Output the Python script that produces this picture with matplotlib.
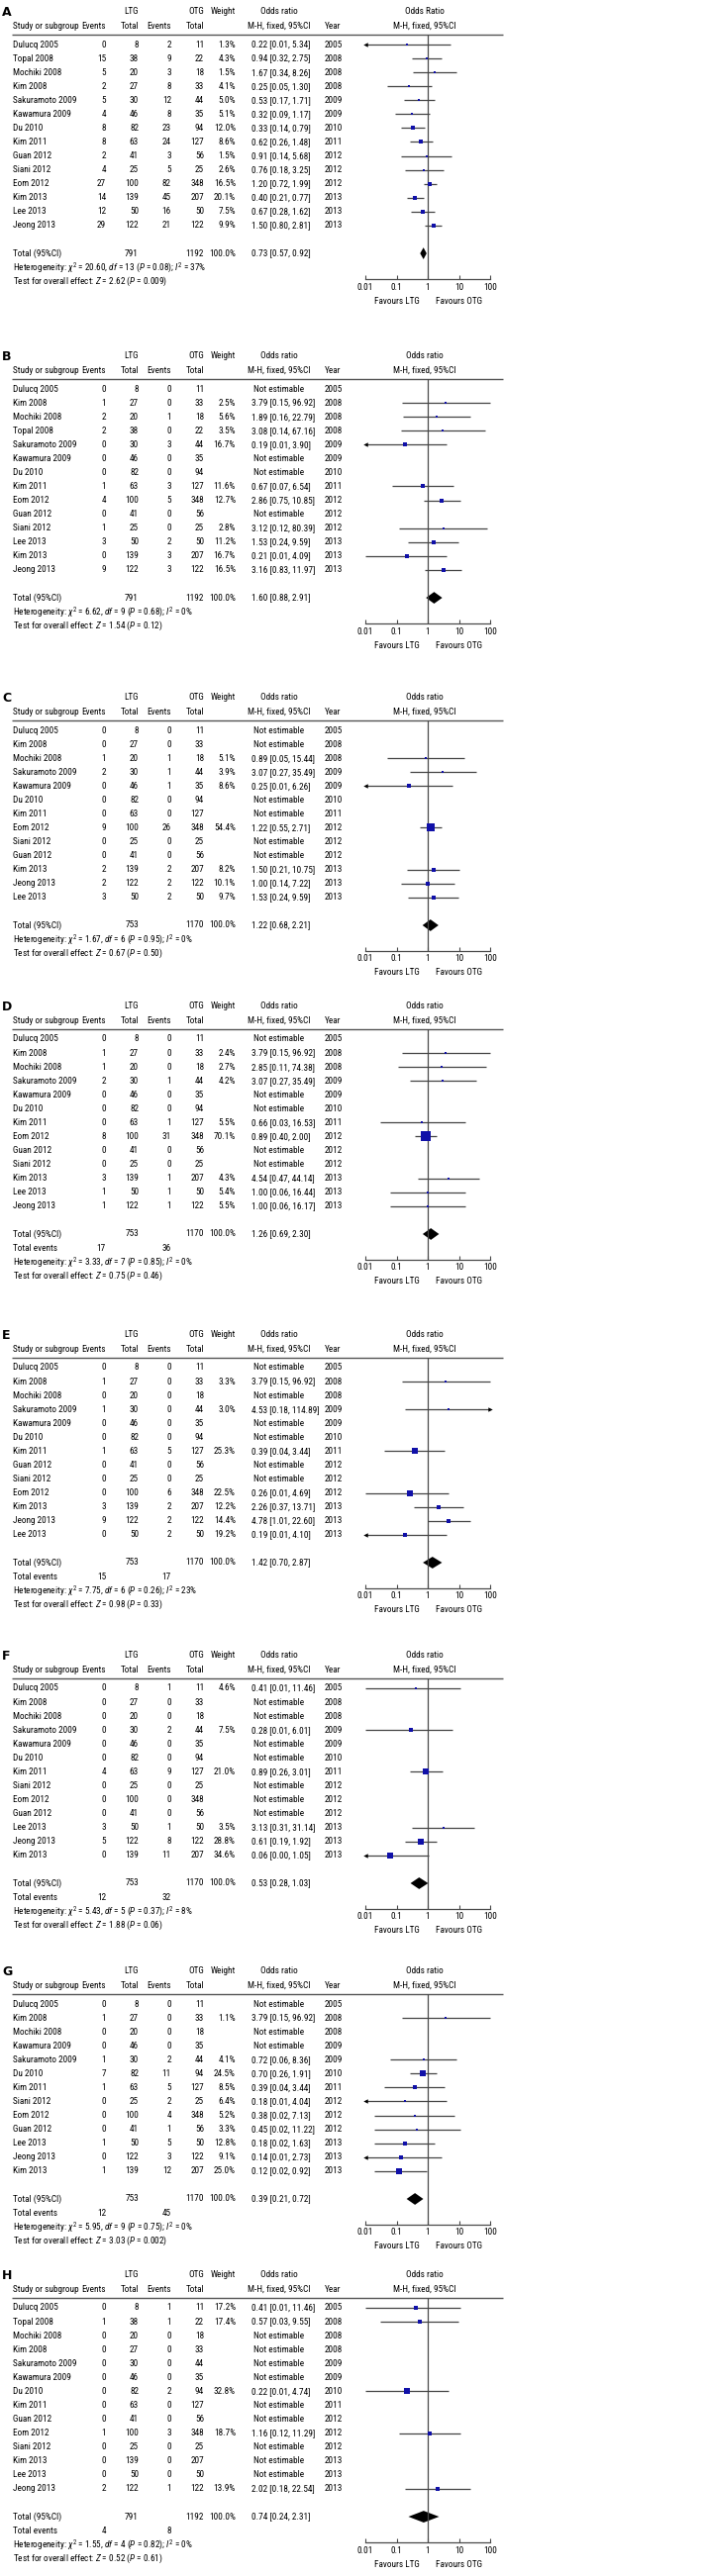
import numpy as np
import matplotlib
matplotlib.use("Agg")
import matplotlib.pyplot as plt
from matplotlib import font_manager as fm

# ---------------------------------------------------------------- data
A_STUDY = ["Dulucq 2005", "Topal 2008", "Mochiki 2008", "Kim 2008", "Sakuramoto 2009", "Kawamura 2009", "Du 2010",
           "Kim 2011", "Guan 2012", "Siani 2012", "Eom 2012", "Kim 2013", "Lee 2013", "Jeong 2013"]
A_LTG_EV = [0, 15, 5, 2, 5, 4, 8, 8, 2, 4, 27, 14, 12, 29]
A_LTG_N = [8, 38, 20, 27, 30, 46, 82, 63, 41, 25, 100, 139, 50, 122]
A_OTG_EV = [2, 9, 3, 8, 12, 8, 23, 24, 3, 5, 82, 45, 16, 21]
A_OTG_N = [11, 22, 18, 33, 44, 35, 94, 127, 56, 25, 348, 207, 50, 122]
A_WEIGHT = [1.3, 4.3, 1.5, 4.1, 5.0, 5.1, 12.0, 8.6, 1.5, 2.6, 16.5, 20.1, 7.5, 9.9]
A_OR = [0.22, 0.94, 1.67, 0.25, 0.53, 0.32, 0.33, 0.62, 0.91, 0.76, 1.20, 0.40, 0.67, 1.50]
A_LO = [0.0095, 0.32, 0.34, 0.05, 0.17, 0.09, 0.14, 0.26, 0.14, 0.18, 0.72, 0.21, 0.28, 0.80]
A_HI = [5.34, 2.75, 8.26, 1.30, 1.71, 1.17, 0.79, 1.48, 5.68, 3.25, 1.99, 0.77, 1.62, 2.81]
A_TOTAL = [791, 1192, 0.73, 0.57, 0.92]
A_EVENTS = None
A_HET = [20.60, 13, "0.08", 37]
A_TEST = [2.62, "0.009"]

B_STUDY = ["Dulucq 2005", "Kim 2008", "Mochiki 2008", "Topal 2008", "Sakuramoto 2009", "Kawamura 2009", "Du 2010",
           "Kim 2011", "Eom 2012", "Guan 2012", "Siani 2012", "Lee 2013", "Kim 2013", "Jeong 2013"]
B_LTG_EV = [0, 1, 2, 2, 0, 0, 0, 1, 4, 0, 1, 3, 0, 9]
B_LTG_N = [8, 27, 20, 38, 30, 46, 82, 63, 100, 41, 25, 50, 139, 122]
B_OTG_EV = [0, 0, 1, 0, 3, 0, 0, 3, 5, 0, 0, 2, 3, 3]
B_OTG_N = [11, 33, 18, 22, 44, 35, 94, 127, 348, 56, 25, 50, 207, 122]
B_WEIGHT = [None, 2.5, 5.6, 3.5, 16.7, None, None, 11.6, 12.7, None, 2.8, 11.2, 16.7, 16.5]
B_OR = [None, 3.79, 1.89, 3.08, 0.19, None, None, 0.67, 2.86, None, 3.12, 1.53, 0.21, 3.16]
B_LO = [None, 0.15, 0.16, 0.14, 0.0095, None, None, 0.07, 0.75, None, 0.12, 0.24, 0.01, 0.83]
B_HI = [None, 96.92, 22.79, 67.16, 3.90, None, None, 6.54, 10.85, None, 80.39, 9.59, 4.09, 11.97]
B_TOTAL = [791, 1192, 1.60, 0.88, 2.91]
B_EVENTS = None
B_HET = [6.62, 9, "0.68", 0]
B_TEST = [1.54, "0.12"]

C_STUDY = ["Dulucq 2005", "Kim 2008", "Mochiki 2008", "Sakuramoto 2009", "Kawamura 2009", "Du 2010", "Kim 2011",
           "Eom 2012", "Siani 2012", "Guan 2012", "Kim 2013", "Jeong 2013", "Lee 2013"]
C_LTG_EV = [0, 0, 1, 2, 0, 0, 0, 9, 0, 0, 2, 2, 3]
C_LTG_N = [8, 27, 20, 30, 46, 82, 63, 100, 25, 41, 139, 122, 50]
C_OTG_EV = [0, 0, 1, 1, 1, 0, 0, 26, 0, 0, 2, 2, 2]
C_OTG_N = [11, 33, 18, 44, 35, 94, 127, 348, 25, 56, 207, 122, 50]
C_WEIGHT = [None, None, 5.1, 3.9, 8.6, None, None, 54.4, None, None, 8.2, 10.1, 9.7]
C_OR = [None, None, 0.89, 3.07, 0.25, None, None, 1.22, None, None, 1.50, 1.00, 1.53]
C_LO = [None, None, 0.05, 0.27, 0.0095, None, None, 0.55, None, None, 0.21, 0.14, 0.24]
C_HI = [None, None, 15.44, 35.49, 6.26, None, None, 2.71, None, None, 10.75, 7.22, 9.59]
C_TOTAL = [753, 1170, 1.22, 0.68, 2.21]
C_EVENTS = None
C_HET = [1.67, 6, "0.95", 0]
C_TEST = [0.67, "0.50"]

D_STUDY = ["Dulucq 2005", "Kim 2008", "Mochiki 2008", "Sakuramoto 2009", "Kawamura 2009", "Du 2010", "Kim 2011",
           "Eom 2012", "Guan 2012", "Siani 2012", "Kim 2013", "Lee 2013", "Jeong 2013"]
D_LTG_EV = [0, 1, 1, 2, 0, 0, 0, 8, 0, 0, 3, 1, 1]
D_LTG_N = [8, 27, 20, 30, 46, 82, 63, 100, 41, 25, 139, 50, 122]
D_OTG_EV = [0, 0, 0, 1, 0, 0, 1, 31, 0, 0, 1, 1, 1]
D_OTG_N = [11, 33, 18, 44, 35, 94, 127, 348, 56, 25, 207, 50, 122]
D_WEIGHT = [None, 2.4, 2.7, 4.2, None, None, 5.5, 70.1, None, None, 4.3, 5.4, 5.5]
D_OR = [None, 3.79, 2.85, 3.07, None, None, 0.66, 0.89, None, None, 4.54, 1.00, 1.00]
D_LO = [None, 0.15, 0.11, 0.27, None, None, 0.03, 0.40, None, None, 0.47, 0.06, 0.06]
D_HI = [None, 96.92, 74.38, 35.49, None, None, 16.53, 2.00, None, None, 44.14, 16.44, 16.17]
D_TOTAL = [753, 1170, 1.26, 0.69, 2.30]
D_EVENTS = [17, 36]
D_HET = [3.33, 7, "0.85", 0]
D_TEST = [0.75, "0.46"]

E_STUDY = ["Dulucq 2005", "Kim 2008", "Mochiki 2008", "Sakuramoto 2009", "Kawamura 2009", "Du 2010", "Kim 2011",
           "Guan 2012", "Siani 2012", "Eom 2012", "Kim 2013", "Jeong 2013", "Lee 2013"]
E_LTG_EV = [0, 1, 0, 1, 0, 0, 1, 0, 0, 0, 3, 9, 0]
E_LTG_N = [8, 27, 20, 30, 46, 82, 63, 41, 25, 100, 139, 122, 50]
E_OTG_EV = [0, 0, 0, 0, 0, 0, 5, 0, 0, 6, 2, 2, 2]
E_OTG_N = [11, 33, 18, 44, 35, 94, 127, 56, 25, 348, 207, 122, 50]
E_WEIGHT = [None, 3.3, None, 3.0, None, None, 25.3, None, None, 22.5, 12.2, 14.4, 19.2]
E_OR = [None, 3.79, None, 4.53, None, None, 0.39, None, None, 0.26, 2.26, 4.78, 0.19]
E_LO = [None, 0.15, None, 0.18, None, None, 0.04, None, None, 0.01, 0.37, 1.01, 0.0095]
E_HI = [None, 96.92, None, 114.89, None, None, 3.44, None, None, 4.69, 13.71, 22.60, 4.10]
E_TOTAL = [753, 1170, 1.42, 0.70, 2.87]
E_EVENTS = [15, 17]
E_HET = [7.75, 6, "0.26", 23]
E_TEST = [0.98, "0.33"]

F_STUDY = ["Dulucq 2005", "Kim 2008", "Mochiki 2008", "Sakuramoto 2009", "Kawamura 2009", "Du 2010", "Kim 2011",
           "Siani 2012", "Eom 2012", "Guan 2012", "Lee 2013", "Jeong 2013", "Kim 2013"]
F_LTG_EV = [0, 0, 0, 0, 0, 0, 4, 0, 0, 0, 3, 5, 0]
F_LTG_N = [8, 27, 20, 30, 46, 82, 63, 25, 100, 41, 50, 122, 139]
F_OTG_EV = [1, 0, 0, 2, 0, 0, 9, 0, 0, 0, 1, 8, 11]
F_OTG_N = [11, 33, 18, 44, 35, 94, 127, 25, 348, 56, 50, 122, 207]
F_WEIGHT = [4.6, None, None, 7.5, None, None, 21.0, None, None, None, 3.5, 28.8, 34.6]
F_OR = [0.41, None, None, 0.28, None, None, 0.89, None, None, None, 3.13, 0.61, 0.06]
F_LO = [0.01, None, None, 0.01, None, None, 0.26, None, None, None, 0.31, 0.19, 0.003]
F_HI = [11.46, None, None, 6.01, None, None, 3.01, None, None, None, 31.14, 1.92, 1.05]
F_TOTAL = [753, 1170, 0.53, 0.28, 1.03]
F_EVENTS = [12, 32]
F_HET = [5.43, 5, "0.37", 8]
F_TEST = [1.88, "0.06"]

G_STUDY = ["Dulucq 2005", "Kim 2008", "Mochiki 2008", "Kawamura 2009", "Sakuramoto 2009", "Du 2010", "Kim 2011",
           "Siani 2012", "Eom 2012", "Guan 2012", "Lee 2013", "Jeong 2013", "Kim 2013"]
G_LTG_EV = [0, 1, 0, 0, 1, 7, 1, 0, 0, 0, 1, 0, 1]
G_LTG_N = [8, 27, 20, 46, 30, 82, 63, 25, 100, 41, 50, 122, 139]
G_OTG_EV = [0, 0, 0, 0, 2, 11, 5, 2, 4, 1, 5, 3, 12]
G_OTG_N = [11, 33, 18, 35, 44, 94, 127, 25, 348, 56, 50, 122, 207]
G_WEIGHT = [None, 1.1, None, None, 4.1, 24.5, 8.5, 6.4, 5.2, 3.3, 12.8, 9.1, 25.0]
G_OR = [None, 3.79, None, None, 0.72, 0.70, 0.39, 0.18, 0.38, 0.45, 0.18, 0.14, 0.12]
G_LO = [None, 0.15, None, None, 0.06, 0.26, 0.04, 0.0095, 0.02, 0.02, 0.02, 0.0095, 0.02]
G_HI = [None, 96.92, None, None, 8.36, 1.91, 3.44, 4.04, 7.13, 11.22, 1.63, 2.73, 0.92]
G_TOTAL = [753, 1170, 0.39, 0.21, 0.72]
G_EVENTS = [12, 45]
G_HET = [5.95, 9, "0.75", 0]
G_TEST = [3.03, "0.002"]

H_STUDY = ["Dulucq 2005", "Topal 2008", "Mochiki 2008", "Kim 2008", "Sakuramoto 2009", "Kawamura 2009", "Du 2010",
           "Kim 2011", "Guan 2012", "Eom 2012", "Siani 2012", "Kim 2013", "Lee 2013", "Jeong 2013"]
H_LTG_EV = [0, 1, 0, 0, 0, 0, 0, 0, 0, 1, 0, 0, 0, 2]
H_LTG_N = [8, 38, 20, 27, 30, 46, 82, 63, 41, 100, 25, 139, 50, 122]
H_OTG_EV = [1, 1, 0, 0, 0, 0, 2, 0, 0, 3, 0, 0, 0, 1]
H_OTG_N = [11, 22, 18, 33, 44, 35, 94, 127, 56, 348, 25, 207, 50, 122]
H_WEIGHT = [17.2, 17.4, None, None, None, None, 32.8, None, None, 18.7, None, None, None, 13.9]
H_OR = [0.41, 0.57, None, None, None, None, 0.22, None, None, 1.16, None, None, None, 2.02]
H_LO = [0.01, 0.03, None, None, None, None, 0.01, None, None, 0.12, None, None, None, 0.18]
H_HI = [11.46, 9.55, None, None, None, None, 4.74, None, None, 11.29, None, None, None, 22.54]
H_TOTAL = [791, 1192, 0.74, 0.24, 2.31]
H_EVENTS = [4, 8]
H_HET = [1.55, 4, "0.82", 0]
H_TEST = [0.52, "0.61"]

TICKS = [0.01, 0.1, 1, 10, 100]
TICK_LABELS = ["0.01", "0.1", "1", "10", "100"]

# ---------------------------------------------------------------- fonts
names = {f.name for f in fm.fontManager.ttflist}
if "Liberation Sans Narrow" in names:
    FONT, FS = "Liberation Sans Narrow", 7.0
elif "Roboto Condensed" in names:
    FONT, FS = "Roboto Condensed", 6.7
else:
    FONT, FS = "Liberation Sans", 5.9
plt.rcParams["font.family"] = [FONT, "DejaVu Sans"]
plt.rcParams["mathtext.fontset"] = "custom"
plt.rcParams["mathtext.rm"] = FONT
plt.rcParams["mathtext.it"] = FONT + ":italic"
plt.rcParams["mathtext.bf"] = FONT + ":bold"

# ---------------------------------------------------------------- layout
W, H = 709, 2603
DPI = 100
STEP = 14.07
PANEL_Y0 = [45, 393, 738, 1050, 1382, 1706, 2025, 2332]
X_STUDY, X_EV1, X_N1, X_EV2, X_N2, X_W, X_OR, X_ORC, X_YEAR = 13, 107, 140, 173, 206, 238, 254, 282, 328
X_FOREST0, X_FOREST1, X_FTITLE = 369, 495, 429
TXT = "#000000"
LINE = "#4a4a4a"
BLUE = "#1010a8"

fig = plt.figure(figsize=(W / DPI, H / DPI), dpi=DPI)


def fy(px):
    return 1 - px / H


def panel(letter, y0, rtitle, study, ev1, n1, ev2, n2, wt, orv, lo, hi, total, events, het, test):
    n = len(study)
    axis_row = n + 2.85
    top, bottom = -3.3, axis_row + 2.6
    tax = fig.add_axes([0, fy(y0 + bottom * STEP), 1, (bottom - top) * STEP / H])
    tax.set_xlim(0, W)
    tax.set_ylim(bottom, top)
    tax.axis("off")

    def t(x, y, s, ha="left", **kw):
        tax.text(x, y, s, ha=ha, va="center", fontsize=FS, color=TXT, **kw)

    tax.text(2, -2.3, letter, ha="left", va="center", fontsize=9, fontweight="bold",
             family="DejaVu Sans", color="black")
    r1, r2 = -2.35, -1.35
    t(X_N1, r1, "LTG", "right")
    t(X_N2, r1, "OTG", "right")
    t(X_W, r1, "Weight", "right")
    t(X_ORC, r1, "Odds ratio", "center")
    t(X_FTITLE, r1, rtitle, "center")
    t(X_STUDY, r2, "Study or subgroup")
    t(X_EV1, r2, "Events", "right")
    t(X_N1, r2, "Total", "right")
    t(X_EV2, r2, "Events", "right")
    t(X_N2, r2, "Total", "right")
    t(X_ORC, r2, "M-H, fixed, 95%CI", "center")
    t(X_YEAR, r2, "Year")
    t(X_FTITLE, r2, "M-H, fixed, 95%CI", "center")
    tax.hlines(-0.72, 12, 508, color="#555555", lw=1.0)

    for i in range(n):
        t(X_STUDY, i, study[i])
        t(X_EV1, i, str(ev1[i]), "right")
        t(X_N1, i, str(n1[i]), "right")
        t(X_EV2, i, str(ev2[i]), "right")
        t(X_N2, i, str(n2[i]), "right")
        if wt[i] is None:
            t(X_ORC, i, "Not estimable", "center")
        else:
            t(X_W, i, f"{wt[i]:.1f}%", "right")
            t(X_OR, i, f"{orv[i]:.2f} [{lo[i]:.2f}, {hi[i]:.2f}]")
        t(X_YEAR, i, study[i].split()[-1])

    rt = n + 1
    t(X_STUDY, rt, "Total (95%CI)")
    t(X_N1, rt, str(total[0]), "right")
    t(X_N2, rt, str(total[1]), "right")
    t(X_W, rt, "100.0%", "right")
    t(X_OR, rt, f"{total[2]:.2f} [{total[3]:.2f}, {total[4]:.2f}]")
    r = rt + 1
    if events is not None:
        t(X_STUDY, r, "Total events")
        t(X_EV1, r, str(events[0]), "right")
        t(X_EV2, r, str(events[1]), "right")
        r += 1
    t(X_STUDY, r, "Heterogeneity: $\\chi^2$ = %.2f, $df$ = %d ($P$ = %s); $I^2$ = %d%%" % tuple(het))
    t(X_STUDY, r + 1, "Test for overall effect: $Z$ = %.2f ($P$ = %s)" % tuple(test))

    # forest plot
    fax = fig.add_axes([X_FOREST0 / W, fy(y0 + axis_row * STEP), (X_FOREST1 - X_FOREST0) / W,
                        (axis_row + 0.72) * STEP / H])
    fax.set_facecolor("none")
    fax.set_xscale("log")
    fax.set_xlim(TICKS[0], TICKS[-1])
    fax.set_ylim(axis_row, -0.72)
    for s in ("top", "left", "right"):
        fax.spines[s].set_visible(False)
    fax.spines["bottom"].set_color(LINE)
    fax.spines["bottom"].set_linewidth(0.9)
    fax.set_yticks([])
    fax.set_xticks(TICKS)
    fax.set_xticklabels(TICK_LABELS)
    fax.minorticks_off()
    fax.tick_params(axis="x", direction="in", length=3, width=0.8, color=LINE,
                    labelsize=FS, labelcolor=TXT, pad=2.5)
    fax.axvline(1, color=LINE, lw=0.9)
    for i in range(n):
        if wt[i] is None:
            continue
        a = max(lo[i], TICKS[0])
        b = min(hi[i], TICKS[-1])
        fax.hlines(i, a, b, color="#444444", lw=0.9, clip_on=False)
        if lo[i] < TICKS[0]:
            fax.plot(TICKS[0], i, marker="<", ms=3.2, color="black", mew=0, clip_on=False)
        if hi[i] > TICKS[-1]:
            fax.plot(TICKS[-1], i, marker=">", ms=3.2, color="black", mew=0, clip_on=False)
        fax.plot(orv[i], i, marker="s", ms=max(1.5, 0.8 * np.sqrt(wt[i])), color=BLUE, mew=0,
                 clip_on=False)
    o, l, h = total[2], total[3], total[4]
    fax.fill([l, o, h, o], [rt, rt - 0.42, rt, rt + 0.42], color="black", lw=0)
    for xv, lab in ((0.1, "Favours LTG"), (10, "Favours OTG")):
        fax.annotate(lab, xy=(xv, 0), xycoords=("data", "axes fraction"), xytext=(0, -15.8),
                     textcoords="offset points", ha="center", va="center", fontsize=FS, color=TXT)


PANELS = [
    ("A", "Odds Ratio", A_STUDY, A_LTG_EV, A_LTG_N, A_OTG_EV, A_OTG_N, A_WEIGHT, A_OR, A_LO, A_HI, A_TOTAL, A_EVENTS, A_HET, A_TEST),
    ("B", "Odds ratio", B_STUDY, B_LTG_EV, B_LTG_N, B_OTG_EV, B_OTG_N, B_WEIGHT, B_OR, B_LO, B_HI, B_TOTAL, B_EVENTS, B_HET, B_TEST),
    ("C", "Odds ratio", C_STUDY, C_LTG_EV, C_LTG_N, C_OTG_EV, C_OTG_N, C_WEIGHT, C_OR, C_LO, C_HI, C_TOTAL, C_EVENTS, C_HET, C_TEST),
    ("D", "Odds ratio", D_STUDY, D_LTG_EV, D_LTG_N, D_OTG_EV, D_OTG_N, D_WEIGHT, D_OR, D_LO, D_HI, D_TOTAL, D_EVENTS, D_HET, D_TEST),
    ("E", "Odds ratio", E_STUDY, E_LTG_EV, E_LTG_N, E_OTG_EV, E_OTG_N, E_WEIGHT, E_OR, E_LO, E_HI, E_TOTAL, E_EVENTS, E_HET, E_TEST),
    ("F", "Odds ratio", F_STUDY, F_LTG_EV, F_LTG_N, F_OTG_EV, F_OTG_N, F_WEIGHT, F_OR, F_LO, F_HI, F_TOTAL, F_EVENTS, F_HET, F_TEST),
    ("G", "Odds ratio", G_STUDY, G_LTG_EV, G_LTG_N, G_OTG_EV, G_OTG_N, G_WEIGHT, G_OR, G_LO, G_HI, G_TOTAL, G_EVENTS, G_HET, G_TEST),
    ("H", "Odds ratio", H_STUDY, H_LTG_EV, H_LTG_N, H_OTG_EV, H_OTG_N, H_WEIGHT, H_OR, H_LO, H_HI, H_TOTAL, H_EVENTS, H_HET, H_TEST),
]

for (letter, rtitle, *rest), y0 in zip(PANELS, PANEL_Y0):
    panel(letter, y0, rtitle, *rest)

fig.savefig("out.png", dpi=DPI, facecolor="white")
